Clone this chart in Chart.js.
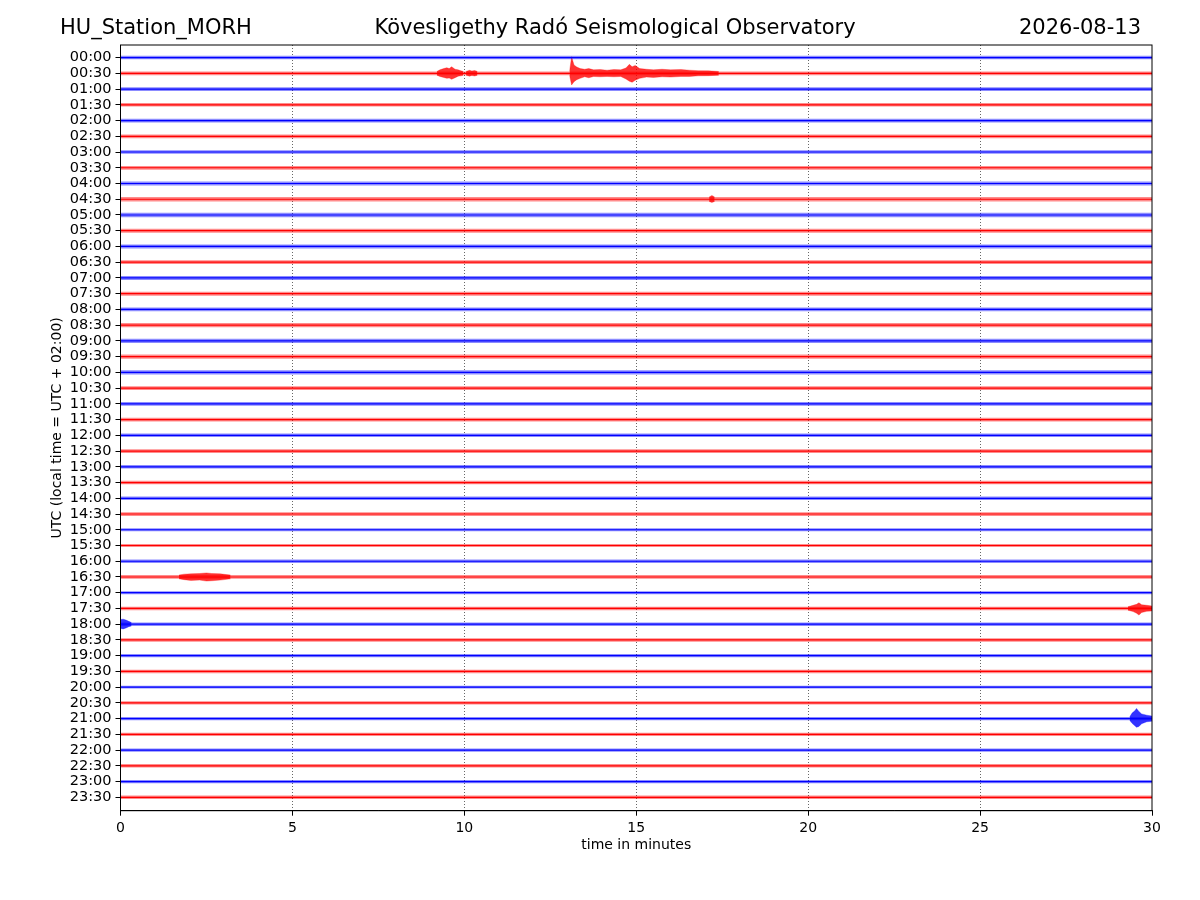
<!DOCTYPE html>
<html>
<head>
<meta charset="utf-8">
<title>HU_Station_MORH helicorder</title>
<script src="https://cdn.jsdelivr.net/npm/chart.js@4.4.1/dist/chart.umd.min.js"></script>
<style>
  body { margin: 0; background: #fff; }
  canvas { display: block; }
</style>
</head>
<body>
<canvas id="helicorder" width="1200" height="900"></canvas>
<script>
// one trace per half hour (UTC)
const traceLabels = [
    '00:00', '00:30', '01:00', '01:30', '02:00', '02:30', '03:00', '03:30',
    '04:00', '04:30', '05:00', '05:30', '06:00', '06:30', '07:00', '07:30',
    '08:00', '08:30', '09:00', '09:30', '10:00', '10:30', '11:00', '11:30',
    '12:00', '12:30', '13:00', '13:30', '14:00', '14:30', '15:00', '15:30',
    '16:00', '16:30', '17:00', '17:30', '18:00', '18:30', '19:00', '19:30',
    '20:00', '20:30', '21:00', '21:30', '22:00', '22:30', '23:00', '23:30'
];

// background noise half-amplitude of each trace (in trace spacings)
const noiseLevel = [
    0.11, 0.12, 0.12, 0.11, 0.12, 0.12, 0.11, 0.12,
    0.12, 0.14, 0.14, 0.13, 0.13, 0.12, 0.13, 0.13,
    0.12, 0.13, 0.14, 0.14, 0.13, 0.12, 0.12, 0.12,
    0.11, 0.12, 0.11, 0.11, 0.11, 0.12, 0.10, 0.10,
    0.11, 0.12, 0.10, 0.11, 0.11, 0.11, 0.10, 0.11,
    0.09, 0.11, 0.11, 0.11, 0.10, 0.11, 0.10, 0.11
];

// recorded events: trace index and envelope [minute, amplitude up, amplitude down]
const events = [
    { trace: 1, points: [[9.2, 0.12, 0.12], [9.29, 0.22, 0.2], [9.4, 0.3, 0.26], [9.49, 0.36, 0.32],
                         [9.56, 0.3, 0.3], [9.63, 0.42, 0.38], [9.73, 0.26, 0.28], [9.82, 0.22, 0.18],
                         [9.9, 0.16, 0.16], [9.97, 0.12, 0.12]] },
    { trace: 1, points: [[10.05, 0.12, 0.12], [10.15, 0.19, 0.18], [10.22, 0.15, 0.14], [10.3, 0.18, 0.17], [10.38, 0.12, 0.12]] },
    { trace: 1, points: [[13.06, 0.12, 0.12], [13.12, 1.06, 0.74], [13.19, 0.53, 0.53], [13.27, 0.4, 0.4],
                         [13.37, 0.3, 0.32], [13.5, 0.26, 0.22], [13.62, 0.3, 0.28], [13.76, 0.22, 0.2],
                         [13.95, 0.24, 0.22], [14.15, 0.2, 0.2], [14.35, 0.24, 0.22], [14.55, 0.22, 0.2],
                         [14.7, 0.34, 0.36], [14.8, 0.57, 0.5], [14.88, 0.42, 0.57], [14.97, 0.5, 0.44],
                         [15.1, 0.3, 0.32], [15.3, 0.26, 0.24], [15.5, 0.22, 0.26], [15.75, 0.26, 0.22],
                         [16.0, 0.22, 0.24], [16.3, 0.24, 0.2], [16.55, 0.2, 0.2], [16.8, 0.17, 0.16],
                         [17.1, 0.16, 0.15], [17.4, 0.12, 0.12]] },
    { trace: 9, points: [[17.12, 0.14, 0.14], [17.2, 0.24, 0.2], [17.28, 0.14, 0.14]] },
    { trace: 33, points: [[1.7, 0.12, 0.12], [1.85, 0.18, 0.17], [2.05, 0.2, 0.22], [2.3, 0.22, 0.2],
                          [2.5, 0.26, 0.26], [2.65, 0.22, 0.24], [2.9, 0.2, 0.2], [3.2, 0.12, 0.12]] },
    { trace: 35, points: [[29.3, 0.11, 0.11], [29.45, 0.2, 0.2], [29.55, 0.26, 0.3], [29.62, 0.36, 0.42],
                          [29.7, 0.24, 0.26], [29.85, 0.2, 0.18], [30, 0.16, 0.16]] },
    { trace: 36, points: [[0, 0.3, 0.28], [0.08, 0.32, 0.3], [0.16, 0.26, 0.24], [0.24, 0.18, 0.16], [0.32, 0.11, 0.11]] },
    { trace: 42, points: [[29.35, 0.11, 0.11], [29.42, 0.35, 0.3], [29.5, 0.5, 0.45], [29.55, 0.65, 0.55],
                          [29.62, 0.45, 0.5], [29.7, 0.3, 0.32], [29.85, 0.22, 0.2], [30, 0.16, 0.16]] }
];

const xTicks = [0, 5, 10, 15, 20, 25, 30];
const recordLength = 30; // minutes per trace

const lineColor = i => (i % 2 === 0 ? '#0000ff' : '#ff0000');
const bandColor = (i, a) => (i % 2 === 0 ? 'rgba(0,0,255,' + a + ')' : 'rgba(255,0,0,' + a + ')');

const datasets = [];
traceLabels.forEach(function(label, i) {
    const n = noiseLevel[i];
    // noise band
    datasets.push({
        data: [{ x: 0, y: i - n }, { x: recordLength, y: i - n }],
        borderWidth: 0, pointRadius: 0, fill: false
    });
    datasets.push({
        data: [{ x: 0, y: i + n }, { x: recordLength, y: i + n }],
        borderWidth: 0, pointRadius: 0, fill: '-1', backgroundColor: bandColor(i, 0.45)
    });
    // trace centre line
    datasets.push({
        data: [{ x: 0, y: i }, { x: recordLength, y: i }],
        borderColor: lineColor(i), borderWidth: 1.2, pointRadius: 0, fill: false
    });
});

events.forEach(function(ev) {
    const i = ev.trace;
    datasets.push({
        data: ev.points.map(p => ({ x: p[0], y: i - p[1] })),
        borderColor: bandColor(i, 0.5), borderWidth: 0.6, pointRadius: 0, fill: false
    });
    datasets.push({
        data: ev.points.map(p => ({ x: p[0], y: i + p[2] })),
        borderColor: bandColor(i, 0.5), borderWidth: 0.6, pointRadius: 0,
        fill: '-1', backgroundColor: bandColor(i, 0.8)
    });
});

// frame and the three header texts
const framePlugin = {
    id: 'frame',
    afterDraw(chart) {
        const { ctx, chartArea } = chart;
        ctx.save();
        ctx.strokeStyle = '#000';
        ctx.lineWidth = 1;
        ctx.strokeRect(chartArea.left, chartArea.top, chartArea.right - chartArea.left, chartArea.bottom - chartArea.top);
        ctx.fillStyle = '#000';
        ctx.font = '21px "DejaVu Sans"';
        ctx.textBaseline = 'middle';
        ctx.textAlign = 'left';
        ctx.fillText('HU_Station_MORH', 60, 29);
        ctx.textAlign = 'center';
        ctx.fillText('Kövesligethy Radó Seismological Observatory', 615, 29);
        ctx.textAlign = 'right';
        ctx.fillText('2026-08-13', 1141, 29);
        ctx.restore();
    }
};

new Chart(document.getElementById('helicorder'), {
    type: 'line',
    data: { datasets: datasets },
    plugins: [framePlugin],
    options: {
        responsive: false,
        animation: false,
        layout: { padding: { top: 45, right: 48, bottom: 42.6, left: 45 } },
        plugins: {
            legend: { display: false },
            tooltip: { enabled: false }
        },
        elements: { line: { tension: 0 } },
        scales: {
            x: {
                type: 'linear',
                min: 0,
                max: recordLength,
                afterBuildTicks: scale => { scale.ticks = xTicks.map(v => ({ value: v })); },
                afterFit: scale => { scale.height = 46.7; },
                ticks: {
                    color: '#000',
                    padding: 4,
                    font: { family: 'DejaVu Sans', size: 14 },
                    maxRotation: 0
                },
                grid: {
                    color: c => (c.tick && c.tick.value > 0 && c.tick.value < recordLength ? 'rgba(0,0,0,0.75)' : 'rgba(0,0,0,0)'),
                    lineWidth: 0.8,
                    tickColor: '#000',
                    tickLength: 5,
                    tickWidth: 1,
                    tickBorderDash: []
                },
                border: { display: true, color: '#000', width: 1, dash: [1, 2] },
                title: {
                    display: true,
                    text: 'time in minutes',
                    color: '#000',
                    font: { family: 'DejaVu Sans', size: 14 }
                }
            },
            y: {
                type: 'linear',
                reverse: true,
                min: -0.8,
                max: 47.85,
                afterBuildTicks: scale => { scale.ticks = traceLabels.map((l, i) => ({ value: i })); },
                afterFit: scale => { scale.width = 75.5; },
                ticks: {
                    autoSkip: false,
                    color: '#000',
                    padding: 4,
                    font: { family: 'DejaVu Sans', size: 14.5 },
                    callback: value => traceLabels[value]
                },
                grid: {
                    drawOnChartArea: false,
                    tickColor: '#000',
                    tickLength: 5,
                    tickWidth: 1
                },
                border: { display: true, color: '#000', width: 1 },
                title: {
                    display: true,
                    text: 'UTC (local time = UTC + 02:00)',
                    color: '#000',
                    font: { family: 'DejaVu Sans', size: 14 }
                }
            }
        }
    }
});
</script>
</body>
</html>
